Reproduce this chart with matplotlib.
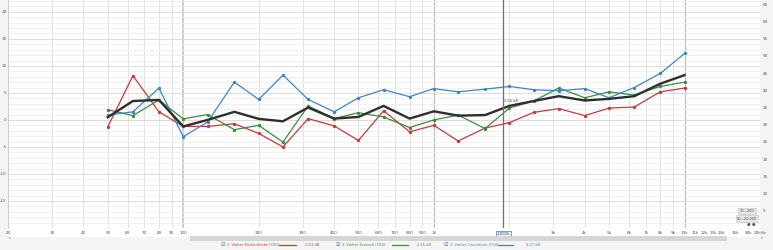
import matplotlib
matplotlib.use('Agg')
import matplotlib.pyplot as plt
from matplotlib.patches import Rectangle

freqs = [50, 63, 80, 100, 125, 160, 200, 250, 315, 400, 500, 630, 800, 1000,
         1250, 1600, 2000, 2500, 3150, 4000, 5000, 6300, 8000, 10000]
red = [-1.3, 8.2, 1.5, -1.2, -1.2, -0.7, -2.5, -5.0, 0.25, -1.1, -3.8, 1.7, -2.2, -1.0,
       -3.9, -1.5, -0.5, 1.4, 2.1, 0.8, 2.2, 2.4, 5.2, 5.9]
green = [1.9, 0.8, 3.7, 0.2, 1.0, -1.8, -1.0, -4.1, 2.6, 0.25, 1.35, 0.55, -1.4, 0.0,
         0.9, -1.6, 2.2, 3.5, 5.9, 4.1, 5.2, 4.6, 6.2, 7.0]
blue = [0.9, 1.5, 5.9, -3.1, -0.4, 7.0, 3.8, 8.3, 3.8, 1.5, 4.1, 5.6, 4.3, 5.8,
        5.2, 5.7, 6.2, 5.6, 5.4, 5.8, 4.1, 6.0, 8.6, 12.3]
black = [0.5, 3.5, 3.7, -1.2, 0.0, 1.5, 0.2, -0.25, 2.3, 0.25, 0.55, 2.6, 0.25, 1.6,
         0.8, 0.9, 2.6, 3.5, 4.4, 3.6, 3.9, 4.4, 6.7, 8.3]

series_names = ["1. Vorher Küchentheke (C50)", "2. Vorher Esstisch (C50)", "3. Vorher Couchtisch (C50)"]
cursor_values = ["-0,53 dB", "2,15 dB", "4,07 dB"]
cursor_freq = 1892
cursor_label = "1,892k"
cursor_db_label = "2,56 dB"

xtick_vals = [20, 30, 40, 50, 60, 70, 80, 90, 100, 200, 300, 400, 500, 600, 700, 800, 900,
              1000, 3000, 4000, 5000, 6000, 7000, 8000, 9000, 10000,
              11000, 12000, 13000, 14000, 16000, 18000, 20000]
xtick_labels = ["20", "30", "40", "50", "60", "70", "80", "90", "100", "200", "300", "400",
                "500", "600", "700", "800", "900", "1k", "3k", "4k", "5k", "6k", "7k", "8k",
                "9k", "10k", "11k", "12k", "13k", "14k", "16k", "18k", "20kHz"]
left_ticks = [-15, -10, -5, 0, 5, 10, 15, 20]
right_ticks = [5, 10, 15, 20, 25, 30, 35, 40, 45, 50, 55, 60, 65]

C_RED = '#c8393b'
C_GREEN = '#3d8c40'
C_BLUE = '#3c86c8'
C_BLACK = '#2e2e2e'

W, H = 773, 250
fig = plt.figure(figsize=(W / 100, H / 100), dpi=100)
fig.patch.set_facecolor('#f4f4f4')

fig.add_artist(Rectangle((8 / W, 13 / H), 752 / W, 237 / H, transform=fig.transFigure,
                         facecolor='white', edgecolor='none', zorder=0))

ax = fig.add_axes([8 / W, 22 / H, 752 / W, 228 / H])
ax.set_xscale('log')
ax.set_xlim(20, 20000)
ax.set_ylim(-20, 22.2)
ax.set_facecolor('white')

grid_f = []
for dec in [10, 100, 1000, 10000]:
    for m in range(1, 10):
        f = dec * m
        if 20 <= f <= 20000:
            grid_f.append(f)
for f in grid_f:
    if f == 100:
        ax.axvline(f, color='#cfcfcf', lw=1.4, zorder=1)
    elif f in (1000, 10000):
        ax.axvline(f, color='#bdbdbd', lw=0.9, zorder=1)
    else:
        ax.axvline(f, color='#e2e2e2', lw=0.7, zorder=1)
for d in range(-20, 23):
    if d % 5 == 0:
        ax.axhline(d, color='#dcdcdc', lw=0.7, zorder=1)
    else:
        ax.axhline(d, color='#eeeeee', lw=0.6, zorder=1)

ms = 1.4
ax.plot(freqs, red, color=C_RED, lw=0.9, marker='o', ms=ms, zorder=3)
ax.plot(freqs, green, color=C_GREEN, lw=0.9, marker='o', ms=ms, zorder=3)
ax.plot(freqs, blue, color=C_BLUE, lw=0.9, marker='o', ms=ms, zorder=3)
ax.plot(freqs, black, color=C_BLACK, lw=1.7, zorder=4)

ax.axvline(cursor_freq, color='#707070', lw=0.9, zorder=5)
ax.text(cursor_freq * 1.01, 3.1, cursor_db_label, fontsize=2.6, color='#444', zorder=6,
        va='bottom', ha='left')

for s in ['top', 'right', 'bottom']:
    ax.spines[s].set_visible(False)
ax.spines['left'].set_color('#cfcfcf')
ax.spines['left'].set_linewidth(0.8)

ax.set_xticks(xtick_vals)
ax.set_xticklabels(xtick_labels)
ax.xaxis.set_minor_locator(matplotlib.ticker.NullLocator())
ax.tick_params(axis='x', length=0, pad=2, labelsize=3, labelcolor='#555')
ax.set_yticks(left_ticks)
ax.set_yticklabels([str(t) for t in left_ticks])
ax.tick_params(axis='y', length=0, pad=1, labelsize=3, labelcolor='#555')

ax2 = ax.twinx()
ax2.set_ylim(0, 66.2)
ax2.set_yticks(right_ticks)
ax2.set_yticklabels([str(t) for t in right_ticks])
ax2.tick_params(axis='y', length=0, pad=2, labelsize=3, labelcolor='#555')
for s in ax2.spines.values():
    s.set_visible(False)

ax.annotate(cursor_label, xy=(cursor_freq, -20), xycoords='data', xytext=(0, -4.5),
            textcoords='offset points', ha='center', va='center', fontsize=2.8, color='#3050a0',
            bbox=dict(boxstyle='square,pad=0.25', fc='#eef2fb', ec='#5070c0', lw=0.5),
            annotation_clip=False, zorder=7)

fig.add_artist(Rectangle((190 / W, 9 / H), 537 / W, 5 / H, transform=fig.transFigure,
                         facecolor='#d6d6d6', edgecolor='none'))
fig.text(10 / W, 1 - 238 / H, "▾", fontsize=2.5, color='#666', ha='center', va='center')
fig.text(762 / W, 1 - 238 / H, "▾", fontsize=2.5, color='#666', ha='center', va='center')

for (yy, label) in [(211, "10...200"), (218.5, "20...20.000")]:
    fig.text(747 / W, 1 - yy / H, label, fontsize=2.5, color='#444', ha='center', va='center',
             bbox=dict(boxstyle='square,pad=0.35', fc='#e6e6e6', ec='#c0c0c0', lw=0.4))
fig.text(749 / W, 1 - 225 / H, "●", fontsize=3, color='#555', ha='center', va='center')
fig.text(754 / W, 1 - 225 / H, "●", fontsize=3, color='#555', ha='center', va='center')

ly = 1 - 244.5 / H
items = [(223, 227, (279, 296), 312, C_RED),
         (338, 342, (392, 408), 424, C_GREEN),
         (446, 450, (498, 513), 533, C_BLUE)]
for (cbx, tx, (l0, l1), vx, col), name, val in zip(items, series_names, cursor_values):
    fig.text(cbx / W, ly, "☑", fontsize=3.6, color='#3c6fc0', ha='center', va='center')
    fig.text(tx / W, ly, name, fontsize=2.6, color=col, ha='left', va='center')
    fig.add_artist(plt.Line2D([l0 / W, l1 / W], [ly, ly], transform=fig.transFigure,
                              color=col, lw=0.9))
    fig.text(vx / W, ly, val, fontsize=2.6, color=col, ha='center', va='center')

fig.savefig('out.png', dpi=100, facecolor=fig.get_facecolor())
